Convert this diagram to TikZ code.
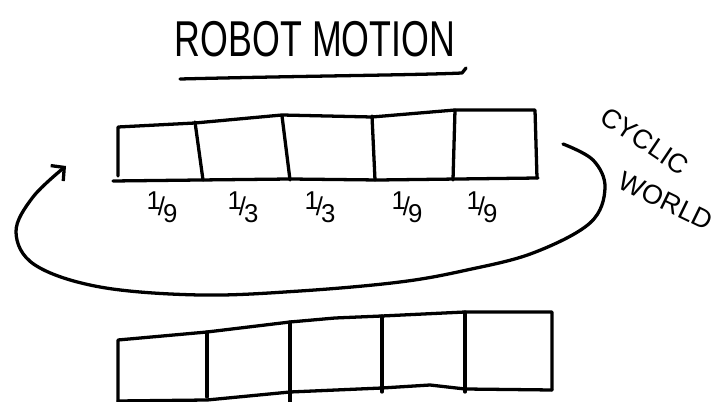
\documentclass[tikz,border=0pt]{standalone}
\usepackage{fontspec}
\setmainfont{Liberation Sans}
\usetikzlibrary{arrows.meta, positioning}
\newcommand{\slantfrac}[2]{\raisebox{0.45ex}{#1}\kern-0.12em/\kern-0.08em\raisebox{-0.5ex}{#2}}

\begin{document}
\begin{tikzpicture}[x=0.03cm, y=-0.03cm, line width=2.8pt, line cap=round, line join=round,
  frac/.style={font=\fontsize{22}{22}\selectfont, inner sep=0pt},
  hand/.style={font=\fontsize{23}{23}\selectfont, inner sep=0pt}]
  \useasboundingbox (0,0) rectangle (724,402);
  % title
  \node[font=\fontsize{43}{43}\selectfont, xscale=0.71, inner sep=0pt] (title) at (315,39) {ROBOT MOTION};
  \draw (180,79) .. controls (300,76) and (420,75) .. (462,73) -- (466,68);
  % upper row of cells
  \draw (113,181) -- (200,180) -- (290,179) -- (378,180) -- (538,178);
  \draw (118,176) -- (118,127) -- (195,123) -- (282,115) -- (372,117) -- (455,110) -- (535,110) -- (537,178);
  \draw (195,122) -- (203,180);
  \draw (282,116) -- (290,180);
  \draw (372,116) -- (375,180);
  \draw (455,110) -- (453,180);
  % probabilities
  \foreach \x/\d [count=\i] in {162/9, 243/3, 320/3, 407/9, 482/9}
    \node[frac] (f\i) at (\x,207) {\slantfrac{1}{\d}};
  % cyclic arrow
  \coordinate (loopstart) at (563,144);
  \coordinate (loopend) at (66,166);
  \draw[-{Straight Barb[length=8pt,width=17pt,line width=2.8pt]}] plot[smooth, tension=0.6] coordinates {(loopstart) (593,160) (605,188) (590,223) (533,253) (467,270) (400,282) (300,291) (200,295) (100,287) (35,265) (16,232) (33,197) (loopend)};
  \node[hand, rotate=-34] (cyclic) at (645,141) {CYCLIC};
  \node[hand, rotate=-26] (world) at (666,201) {WORLD};
  % lower row of cells
  \draw (118,405) -- (118,340) -- (207,332) -- (290,322) -- (335,318) -- (382,316) -- (465,312) -- (552,312) -- (552,390);
  \draw (207,332) -- (207,397);
  \draw (290,322) -- (290,405);
  \draw (382,316) -- (382,392);
  \draw (465,312) -- (465,392);
  \draw (118,401) -- (207,400) -- (290,392) -- (382,388) -- (430,385) -- (465,389) -- (552,390);
\end{tikzpicture}
\end{document}
